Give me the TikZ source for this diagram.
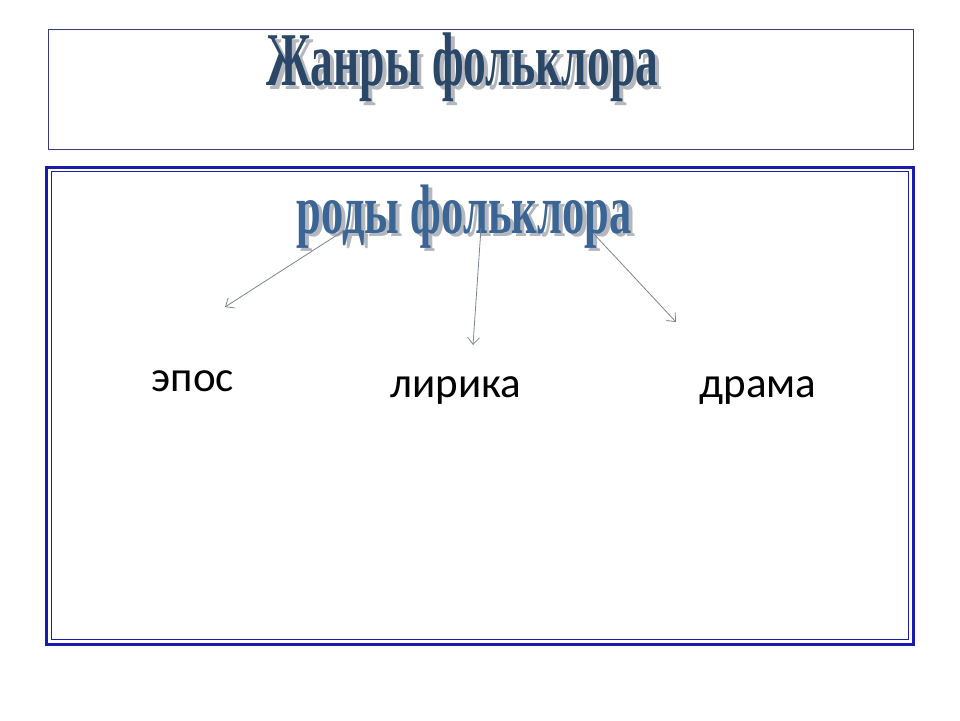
\documentclass[tikz,border=0pt]{standalone}
\usepackage{fontspec}
\usepackage{graphicx}
\setmainfont{Liberation Serif}
\newfontfamily\labelfont{Carlito}
\usetikzlibrary{arrows.meta}
\definecolor{framblue}{HTML}{1A1AB0}
\definecolor{topline}{HTML}{3A3A7A}
\definecolor{titleblue}{HTML}{2B4767}
\definecolor{subblue}{HTML}{3A6594}
\definecolor{shadowgray}{HTML}{B4B8BE}
\definecolor{arrgray}{HTML}{7C8591}
\newcommand{\ttltext}[1]{\scalebox{0.6}[1]{\rmfamily\bfseries\fontsize{76}{76}\selectfont #1}}
\newcommand{\subtext}[1]{\scalebox{0.635}[1]{\rmfamily\bfseries\fontsize{70}{70}\selectfont #1}}
\tikzset{
  lbl/.style={font=\labelfont\fontsize{43}{43}\selectfont, text=black, inner sep=0pt, anchor=base},
  ttl/.style={inner sep=0pt, anchor=base},
  arr/.style={draw=arrgray, line width=0.8pt, -{Straight Barb[length=7pt,width=12pt]}}
}
\begin{document}
\begin{tikzpicture}[x=1pt,y=-1pt]
\useasboundingbox (0,0) rectangle (960,720);
\fill[white] (0,0) rectangle (960,720);
% top box
\node[draw=topline, line width=0.7pt, minimum width=865pt, minimum height=120pt, inner sep=0pt] (topbox) at (480.5,89) {};
% main frame
\node[draw=framblue, line width=3pt, minimum width=867pt, minimum height=477pt, inner sep=0pt] (frame) at (479.5,405.5) {};
\node[draw=framblue, line width=1pt, minimum width=857pt, minimum height=468pt, inner sep=0pt] (inner) at (479.5,405.5) {};
% titles
\node[ttl, text=shadowgray] (titleshadow) at (466.5,89) {\ttltext{Жанры фольклора}};
\node[ttl, text=titleblue] (title) at (462.5,85) {\ttltext{Жанры фольклора}};
\node[ttl, text=shadowgray] (subshadow) at (468,236) {\subtext{роды фольклора}};
\node[ttl, text=subblue] (subtitle) at (464,233) {\subtext{роды фольклора}};
% labels
\node[lbl] (epos) at (193,391) {эпос};
\node[lbl] (lirika) at (456,397) {лирика};
\node[lbl] (drama) at (758,397) {драма};
% arrows
\coordinate (s1) at (348,228);
\coordinate (e1) at (225,307);
\coordinate (s2) at (481,228);
\coordinate (e2) at (473,345);
\coordinate (s3) at (593,233);
\coordinate (e3) at (676,322);
\draw[arr] (s1) -- (e1);
\draw[arr] (s2) -- (e2);
\draw[arr] (s3) -- (e3);
\end{tikzpicture}
\end{document}
